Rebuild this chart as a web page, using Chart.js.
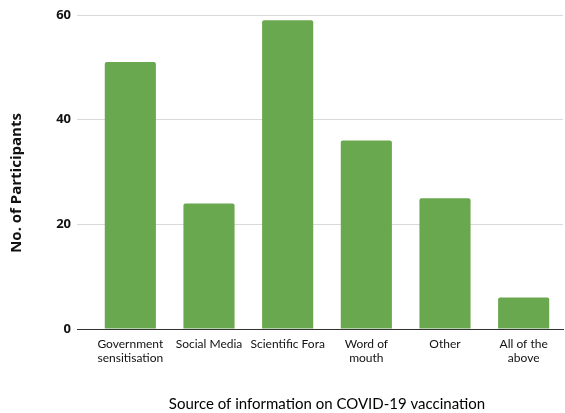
<!DOCTYPE html>
<html>
<head>
<meta charset="utf-8">
<script src="https://cdn.jsdelivr.net/npm/chart.js@4/dist/chart.umd.min.js"></script>
<style>
  html, body { margin: 0; padding: 0; background: #ffffff; }
  #wrap { width: 565px; height: 413px; position: relative; }
</style>
</head>
<body>
<div id="wrap"><canvas id="c" width="565" height="413"></canvas></div>
<script>
// Sources of information on COVID-19 vaccination and participant counts
const categories = [
  ["Government", "sensitisation"],
  "Social Media",
  "Scientific Fora",
  ["Word of", "mouth"],
  "Other",
  ["All of the", "above"]
];
const participants = [51, 24, 59, 36, 25, 6];
const yTicks = [0, 20, 40, 60];
const yTitle = "No. of Participants";
const xTitle = "Source of information on COVID-19 vaccination";

const barGreen = "#6aa84f";

// Vertical axis title, drawn a little below the middle of the axis
const yTitlePlugin = {
  id: "yTitle",
  afterDraw(chart) {
    const ctx = chart.ctx;
    ctx.save();
    ctx.translate(17, 183);
    ctx.rotate(-Math.PI / 2);
    ctx.font = "bold 15px 'Open Sans'";
    ctx.fillStyle = "#111111";
    ctx.textAlign = "center";
    ctx.textBaseline = "middle";
    ctx.fillText(yTitle, 0, 0);
    ctx.restore();
  }
};

new Chart(document.getElementById("c"), {
  type: "bar",
  data: {
    labels: categories,
    datasets: [{
      label: yTitle,
      data: participants,
      backgroundColor: barGreen,
      borderRadius: { topLeft: 2, topRight: 2 },
      borderSkipped: "bottom",
      barPercentage: 0.65,
      categoryPercentage: 1.0
    }]
  },
  plugins: [yTitlePlugin],
  options: {
    responsive: false,
    animation: false,
    devicePixelRatio: 1,
    layout: { padding: { top: 15, right: 2, left: 0, bottom: 0 } },
    plugins: {
      legend: { display: false },
      tooltip: { enabled: false }
    },
    scales: {
      x: {
        grid: { display: false, drawTicks: false },
        border: { display: true, color: "#333333", width: 1 },
        ticks: {
          color: "#111111",
          padding: 8,
          maxRotation: 0,
          autoSkip: false,
          font: { family: "Lato", size: 12, lineHeight: 1.17 }
        },
        title: {
          display: true,
          text: xTitle,
          color: "#000000",
          font: { family: "Lato", size: 15 },
          padding: { top: 26, bottom: 0 }
        },
        afterFit(scale) { scale.height = 84; }
      },
      y: {
        min: 0,
        max: 60,
        afterBuildTicks(scale) { scale.ticks = yTicks.map(v => ({ value: v })); },
        grid: {
          color: ctx => (ctx.tick && ctx.tick.value === 0 ? "#333333" : "#d9d9d9"),
          lineWidth: 1,
          tickLength: 14
        },
        border: { display: false },
        ticks: {
          color: "#111111",
          padding: 6,
          font: { family: "Open Sans", size: 13, weight: "bold" }
        },
        title: { display: false },
        afterFit(scale) { scale.width = 91; }
      }
    }
  }
});
</script>
</body>
</html>
